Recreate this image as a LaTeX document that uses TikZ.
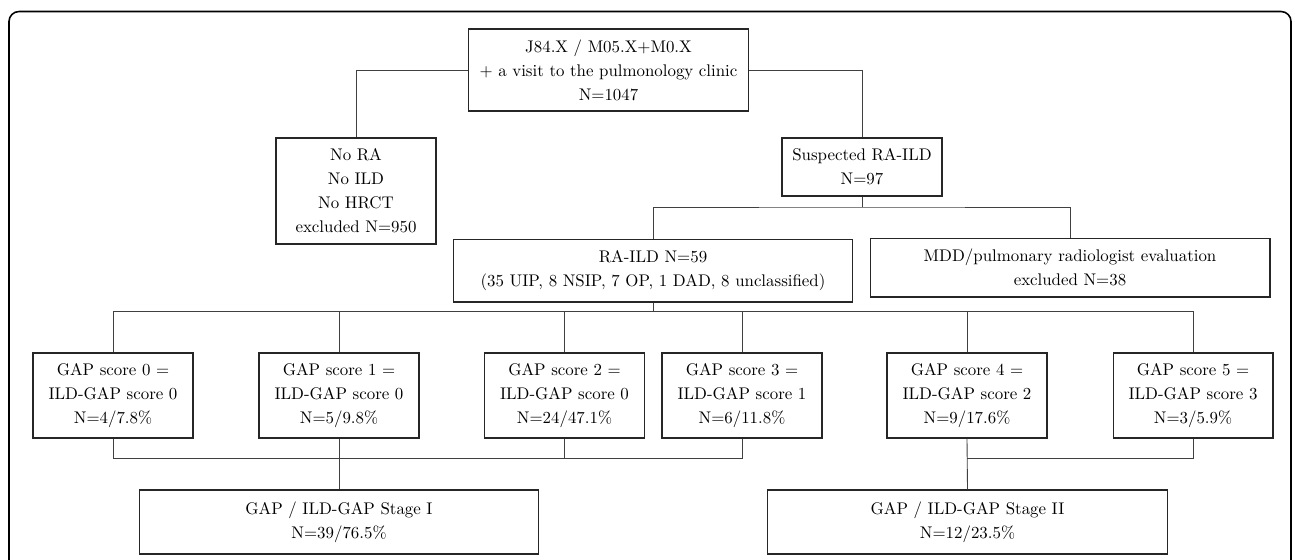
\documentclass[tikz,border=0pt]{standalone}
\usepackage{tikz}
\begin{document}
\begin{tikzpicture}[x=0.02cm,y=-0.02cm]
          \tikzstyle{stagebox}=[draw=black!85,line width=0.6pt,align=center,inner sep=2pt,
                                font=\fontsize{9.6}{13.7}\selectfont]
          \tikzstyle{link}=[draw=black!75,line width=0.5pt]
          \useasboundingbox (0,0) rectangle (1295,559);
          \clip (0,0) rectangle (1295,559);
          \draw[line width=0.9pt,rounded corners=0.2cm] (9,620) -- (9,11.5) -- (1291,11.5) -- (1291,620);
          \begin{scope}
             % screening
             \node [stagebox,minimum width=5.6cm,minimum height=1.64cm] (codes) at (608.5,70) {J84.X / M05.X+M0.X\\+ a visit to the pulmonology clinic\\N=1047};
             \node [stagebox,minimum width=3.2cm,minimum height=2.12cm] (nora) at (356,191) {No RA\\No ILD\\No HRCT\\excluded N=950};
             \node [stagebox,minimum width=3.2cm,minimum height=1.16cm] (susp) at (862,167) {Suspected RA-ILD\\N=97};
             \node [stagebox,minimum width=8cm,minimum height=1.25cm] (raild) at (653,270.75) {RA-ILD N=59\\(35 UIP, 8 NSIP, 7 OP, 1 DAD, 8 unclassified)};
             \node [stagebox,minimum width=8cm,minimum height=1.17cm] (mdd) at (1070,267.75) {MDD/pulmonary radiologist evaluation\\excluded N=38};
             % GAP scores
             \node [stagebox,minimum width=3.2cm,minimum height=1.7cm] (g0) at (113,395.5) {GAP score 0 =\\ILD-GAP score 0\\N=4/7.8\%};
             \node [stagebox,minimum width=3.2cm,minimum height=1.7cm] (g1) at (339,395.5) {GAP score 1 =\\ILD-GAP score 0\\N=5/9.8\%};
             \node [stagebox,minimum width=3.2cm,minimum height=1.7cm] (g2) at (564.5,395.5) {GAP score 2 =\\ILD-GAP score 0\\N=24/47.1\%};
             \node [stagebox,minimum width=3.2cm,minimum height=1.7cm] (g3) at (742,395.5) {GAP score 3 =\\ILD-GAP score 1\\N=6/11.8\%};
             \node [stagebox,minimum width=3.2cm,minimum height=1.7cm] (g4) at (967,395.5) {GAP score 4 =\\ILD-GAP score 2\\N=9/17.6\%};
             \node [stagebox,minimum width=3.2cm,minimum height=1.7cm] (g5) at (1193,395.5) {GAP score 5 =\\ILD-GAP score 3\\N=3/5.9\%};
             % stages
             \node [stagebox,minimum width=8cm,minimum height=1.28cm] (stage1) at (339,522) {GAP / ILD-GAP Stage I\\N=39/76.5\%};
             \node [stagebox,minimum width=8cm,minimum height=1.28cm] (stage2) at (967.5,522) {GAP / ILD-GAP Stage II\\N=12/23.5\%};
             \coordinate (split1) at (862,207);
             \coordinate (split2) at (653,311);
             \coordinate (join1) at (339,458);
             \coordinate (join2) at (967,458);
             \path[link] (codes.west) -| (nora.north);
             \path[link] (codes.east) -| (susp.north);
             \path[link] (susp.south) -- (split1);
             \path[link] (raild.north) |- (split1) -| (mdd.north);
             \path[link] (raild.south) -- (split2);
             \path[link] (g0.north) |- (split2) -| (g5.north);
             \foreach \g in {g1,g2,g3,g4}
                \path[link] (\g.north) -- (\g.north |- split2);
             \path[link] (g0.south) |- (join1) -| (g3.south);
             \path[link] (g2.south) -- (g2.south |- join1);
             \path[link] (g1.south) -- (stage1.north);
             \path[link] (g5.south) |- (join2);
             \path[link] (g4.south) -- (stage2.north);
          \end{scope}
\end{tikzpicture}
\end{document}
